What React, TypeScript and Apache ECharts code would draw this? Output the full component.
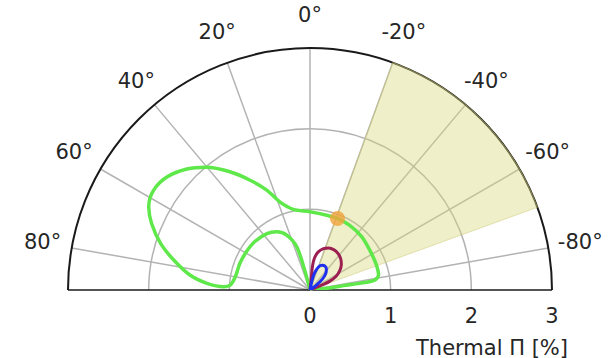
import React, { useEffect, useRef } from "react";
import * as echarts from "echarts";

// [radius (Thermal Π %), angle (deg)]
const greenCurve: number[][] = [
  [0, 14], [0.25, 15], [0.56, 17], [0.74, 23], [0.83, 29.7], [0.88, 37.4], [0.91, 48.7],
  [0.92, 58.8], [0.93, 69.1], [0.94, 79.9], [0.99, 86.4], [1.07, 87.8], [1.28, 86.3],
  [1.5, 82.9], [1.73, 77.6], [1.94, 72.7], [2.13, 67.2], [2.25, 62.7], [2.3, 57.5],
  [2.26, 51.7], [2.14, 45.5], [1.99, 40.1], [1.77, 34.1], [1.55, 28.6], [1.35, 23.4],
  [1.15, 18.8], [1.02, 11.7], [0.97, 0], [0.95, -12.6], [0.95, -21], [0.94, -31.6],
  [0.92, -44.1], [0.89, -56.3], [0.88, -68], [0.87, -77.6], [0.81, -81.3], [0.62, -82.4],
  [0.42, -82.6], [0.21, -84.2], [0, -85],
];
const maroonLobe: number[][] = [
  [0, -3], [0.17, -6], [0.3, -6], [0.4, -8], [0.48, -12], [0.54, -18], [0.57, -24],
  [0.58, -31], [0.57, -38], [0.54, -45], [0.5, -51], [0.44, -57], [0.37, -62],
  [0.27, -66], [0.15, -68], [0, -70],
];
const blueLobe: number[][] = [
  [0, -8], [0.12, -12], [0.22, -15], [0.3, -20], [0.34, -26], [0.35, -32], [0.33, -38],
  [0.28, -44], [0.2, -49], [0.1, -53], [0, -56],
];
const markerPoint: number[][] = [[0.95, -21]];
// [outer radius, angle from, angle to]
const shadedSector: number[][] = [[3, -20, -70]];

const angleLabels = [-80, -60, -40, -20, 0, 20, 40, 60, 80];
const angleMin = -90;
const angleMax = 90;
const angleStep = 10;
const radiusMin = 0;
const radiusMax = 3;
const radiusStep = 1;
const radiusName = "Thermal Π [%]";

const FONT = "DejaVu Sans";

// label placement tweaks (padding [top, right, bottom, left]) so that each
// angle label is centred on a circle just outside the plot, as in the reference
const labelPads: Record<string, number[]> = {
  p0: [0, 0, 58, 0],
  p20: [0, 44, 53, 0],
  p40: [0, 22, 40, 0],
  p60: [0, 38, 24, 0],
  p80: [0, 45, 24, 0],
  n20: [0, 0, 53, 46],
  n40: [0, 0, 40, 21],
  n60: [0, 0, 24, 36],
  n80: [0, 0, 24, 44],
};

export default function App() {
  const ref = useRef<HTMLDivElement>(null);
  useEffect(() => {
    if (!ref.current) return;
    const chart = echarts.init(ref.current, undefined, { renderer: "svg" });
    const splitColors: string[] = [];
    for (let v = angleMin; v <= angleMax; v += angleStep) {
      if (Math.abs(v) === 90) splitColors.push("#1a1a1a");
      else if (angleLabels.includes(v)) splitColors.push("#b3b3b3");
      else splitColors.push("rgba(0,0,0,0)");
    }
    const radiusSplitColors: string[] = [];
    for (let v = radiusMin; v <= radiusMax; v += radiusStep) {
      radiusSplitColors.push(v === radiusMin || v === radiusMax ? "rgba(0,0,0,0)" : "#b3b3b3");
    }
    const rich: Record<string, any> = {};
    Object.keys(labelPads).forEach((k) => {
      rich[k] = { padding: labelPads[k], fontFamily: FONT, fontSize: 21, color: "#262626" };
    });
    const keyOf = (v: number) => (v < 0 ? "n" + -v : "p" + v);
    chart.setOption({
      animation: false,
      backgroundColor: "#ffffff",
      title: {
        text: radiusName,
        left: 487,
        top: 332,
        textAlign: "center",
        textStyle: { fontFamily: FONT, fontSize: 21, fontWeight: "normal", color: "#262626" },
      },
      polar: { center: [310, 290], radius: 242 },
      angleAxis: {
        type: "value",
        min: angleMin,
        max: angleMax,
        interval: angleStep,
        startAngle: 0,
        endAngle: 180,
        clockwise: false,
        axisLine: { show: true, lineStyle: { color: "#1a1a1a", width: 2 } },
        axisTick: { show: false },
        axisLabel: {
          show: true,
          margin: -35,
          fontFamily: FONT,
          fontSize: 21,
          color: "#262626",
          rich,
          formatter: (v: number) =>
            angleLabels.includes(v) ? `{${keyOf(v)}|${v}°}` : "",
        },
        splitLine: { show: true, lineStyle: { color: splitColors, width: 1.5 } },
      },
      radiusAxis: {
        type: "value",
        min: radiusMin,
        max: radiusMax,
        interval: radiusStep,
        axisLine: { show: false },
        axisTick: { show: false },
        axisLabel: {
          show: true,
          margin: -26,
          verticalAlign: "middle",
          fontFamily: FONT,
          fontSize: 21,
          color: "#262626",
        },
        splitLine: { show: true, lineStyle: { color: radiusSplitColors, width: 1.5 } },
      },
      series: [
        {
          type: "custom",
          coordinateSystem: "polar",
          silent: true,
          z: 1,
          data: shadedSector,
          renderItem: (params: any, api: any) => {
            const r = api.value(0);
            const a0 = api.value(1);
            const a1 = api.value(2);
            const pts: number[][] = [api.coord([0, a0])];
            const n = 60;
            for (let i = 0; i <= n; i++) {
              pts.push(api.coord([r, a0 + ((a1 - a0) * i) / n]));
            }
            return {
              type: "polygon",
              shape: { points: pts },
              style: { fill: "rgba(216,214,120,0.4)", stroke: "rgba(205,202,120,0.5)", lineWidth: 1 },
            };
          },
        },
        {
          type: "line",
          coordinateSystem: "polar",
          data: greenCurve,
          showSymbol: false,
          smooth: 0.3,
          lineStyle: { color: "#5fe84a", width: 3.5 },
          z: 3,
        },
        {
          type: "line",
          coordinateSystem: "polar",
          data: maroonLobe,
          showSymbol: false,
          smooth: 0.3,
          lineStyle: { color: "#9c1f52", width: 3 },
          z: 4,
        },
        {
          type: "line",
          coordinateSystem: "polar",
          data: blueLobe,
          showSymbol: false,
          smooth: 0.3,
          lineStyle: { color: "#1f2ff0", width: 3 },
          z: 5,
        },
        {
          type: "scatter",
          coordinateSystem: "polar",
          data: markerPoint,
          symbolSize: 15,
          itemStyle: { color: "#f2a33c" },
          z: 6,
        },
      ],
    });
    return () => chart.dispose();
  }, []);
  return (
    <div
      ref={ref}
      style={{ position: "fixed", left: 0, top: 0, width: 616, height: 358 }}
    />
  );
}
